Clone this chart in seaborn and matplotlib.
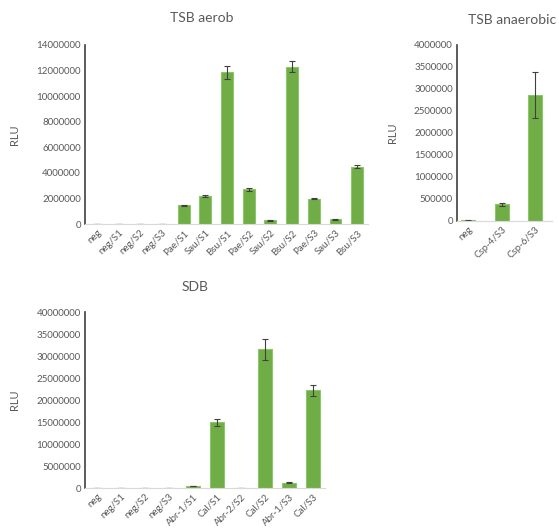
import matplotlib
matplotlib.use("Agg")
import matplotlib.pyplot as plt
import seaborn as sns
import pandas as pd

# TSB aerob
aerob_labels = ["neg", "neg/S1", "neg/S2", "neg/S3", "Pae/S1", "Sau/S1", "Bsu/S1",
                "Pae/S2", "Sau/S2", "Bsu/S2", "Pae/S3", "Sau/S3", "Bsu/S3"]
aerob_rlu = [20000, 15000, 15000, 15000, 1450000, 2200000, 11850000,
             2700000, 300000, 12300000, 1980000, 380000, 4480000]
aerob_err = [10000, 10000, 10000, 10000, 50000, 80000, 500000, 80000, 40000, 450000, 30000, 40000, 130000]

# TSB anaerobic
anaer_labels = ["neg", "Csp-4/S3", "Csp-6/S3"]
anaer_rlu = [15000, 380000, 2870000]
anaer_err = [5000, 35000, 520000]

# SDB
sdb_labels = ["neg", "neg/S1", "neg/S2", "neg/S3", "Abr-1/S1", "Cal/S1",
              "Abr-2/S2", "Cal/S2", "Abr-1/S3", "Cal/S3"]
sdb_rlu = [80000, 80000, 80000, 80000, 450000, 14900000,
           80000, 31500000, 1200000, 22200000]
sdb_err = [20000, 20000, 20000, 20000, 80000, 700000, 20000, 2400000, 120000, 1300000]

sns.set_style("white")
plt.rcParams['font.family'] = ['Lato', 'DejaVu Sans']

GREEN = "#70AD47"
TXT = "#595959"

fig = plt.figure(figsize=(5.59, 5.31), dpi=100)


def panel(rect, labels, vals, errs, width, xlim, ymax, ystep):
    ax = fig.add_axes(rect)
    df = pd.DataFrame({"cat": labels, "RLU": vals})
    sns.barplot(data=df, x="cat", y="RLU", color=GREEN, width=width,
                edgecolor="#8CC56A", linewidth=0.8, saturation=1, ax=ax)
    ax.errorbar(range(len(labels)), vals, yerr=errs, fmt="none",
                ecolor="#404040", elinewidth=0.8, capsize=2.5, capthick=0.8)
    ax.set_xlim(*xlim)
    ax.set_ylim(0, ymax)
    ax.set_yticks(range(0, ymax + 1, ystep))
    ax.set_yticklabels([str(v) for v in range(0, ymax + 1, ystep)])
    ax.set_xlabel("")
    ax.set_ylabel("RLU", color=TXT, fontsize=8)
    for s in ["top", "right"]:
        ax.spines[s].set_visible(False)
    ax.spines["left"].set_color("#404040")
    ax.spines["left"].set_linewidth(1.2)
    ax.spines["bottom"].set_color("#D9D9D9")
    ax.spines["bottom"].set_linewidth(0.8)
    ax.tick_params(axis="both", length=0, labelsize=7, colors=TXT, pad=3)
    plt.setp(ax.get_xticklabels(), rotation=45, ha="right", rotation_mode="anchor")
    return ax


W, H = 559, 531

ax1 = panel([85 / W, (H - 224) / H, 283 / W, 179 / H], aerob_labels, aerob_rlu, aerob_err,
            0.55, (-0.55, 12.5), 14000000, 2000000)
ax1.yaxis.set_label_coords(-0.23, 0.5)

ax2 = panel([457 / W, (H - 221) / H, 95 / W, 176 / H], anaer_labels, anaer_rlu, anaer_err,
            0.42, (-0.33, 2.5), 4000000, 500000)
ax2.yaxis.set_label_coords(-0.62, 0.5)

ax3 = panel([85 / W, (H - 488) / H, 240 / W, 176 / H], sdb_labels, sdb_rlu, sdb_err,
            0.55, (-0.5, 9.5), 40000000, 5000000)
ax3.yaxis.set_label_coords(-0.27, 0.5)

fig.text(202 / W, 1 - 18 / H, "TSB aerob", ha="center", va="center", fontsize=10, color=TXT)
fig.text(512 / W, 1 - 20 / H, "TSB anaerobic", ha="center", va="center", fontsize=10, color=TXT)
fig.text(195 / W, 1 - 287 / H, "SDB", ha="center", va="center", fontsize=10, color=TXT)

fig.savefig("out.png", dpi=100, facecolor="white")
